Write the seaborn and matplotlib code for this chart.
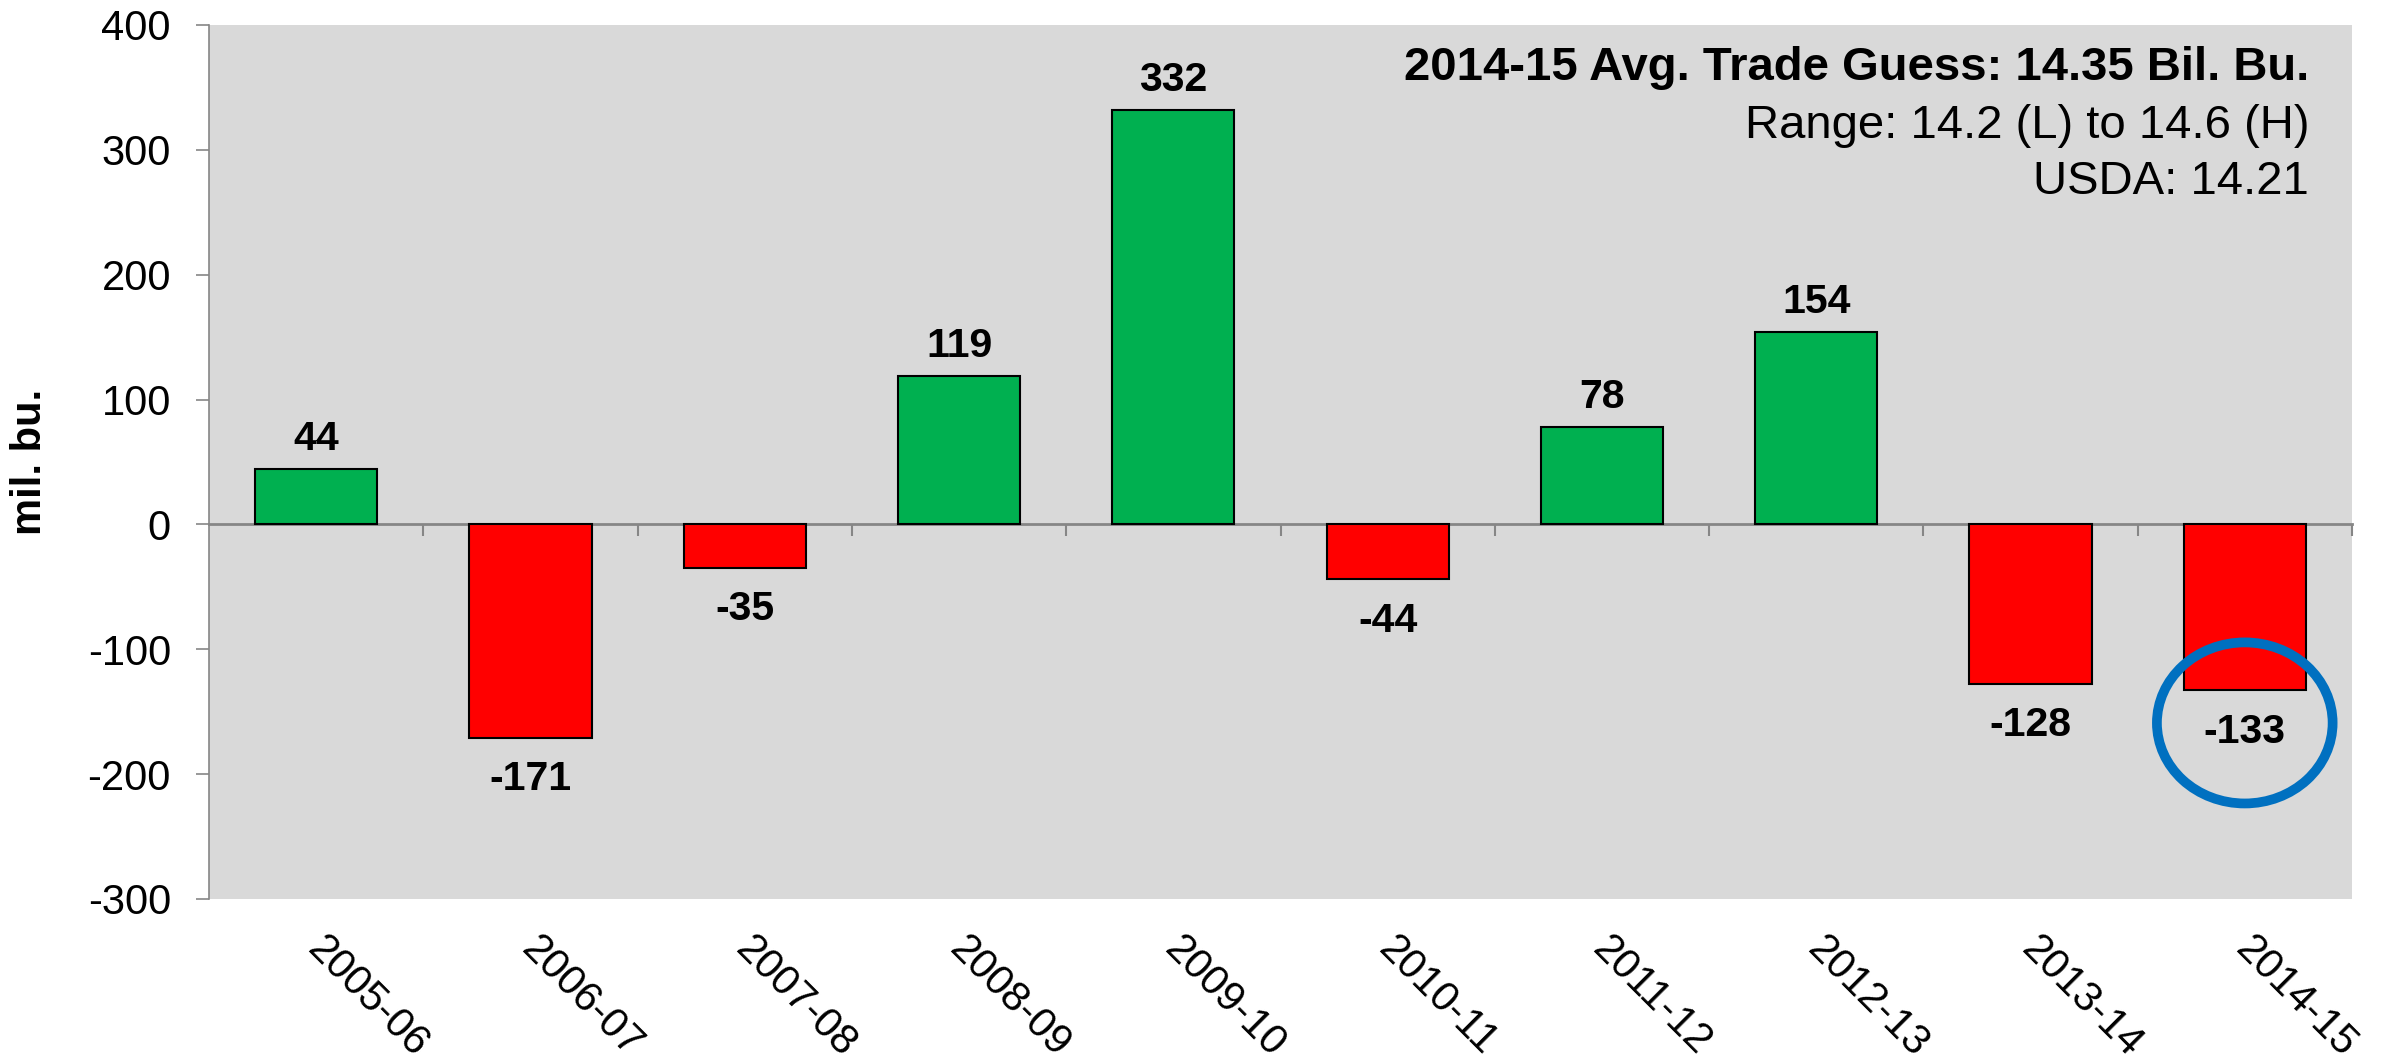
import numpy as np
import pandas as pd
import seaborn as sns
import matplotlib.pyplot as plt
from matplotlib.patches import Ellipse
from matplotlib.transforms import ScaledTranslation

seasons = ["2005-06", "2006-07", "2007-08", "2008-09", "2009-10",
           "2010-11", "2011-12", "2012-13", "2013-14", "2014-15"]
change = [44, -171, -35, 119, 332, -44, 78, 154, -128, -133]
direction = ["up" if v >= 0 else "down" for v in change]

header = "2014-15 Avg. Trade Guess: 14.35 Bil. Bu."
range_txt = "Range: 14.2 (L) to 14.6 (H)"
usda_txt = "USDA: 14.21"

sns.set_theme(style="white")
plt.rcParams["font.family"] = ["Liberation Sans", "DejaVu Sans"]
plt.rcParams["axes.unicode_minus"] = False
plt.rcParams["text.color"] = "black"
plt.rcParams["axes.labelcolor"] = "black"
plt.rcParams["xtick.color"] = "black"
plt.rcParams["ytick.color"] = "black"

grey = "#868686"
df = pd.DataFrame({"season": seasons, "change": change, "dir": direction})

fig = plt.figure(figsize=(23.87, 10.62), dpi=100)
ax = fig.add_axes([0.0876, 0.1535, 0.8977, 0.823])
ax.set_facecolor("#D9D9D9")

sns.barplot(data=df, x="season", y="change", hue="dir", hue_order=["up", "down"],
            palette={"up": "#00B050", "down": "#FF0000"}, dodge=False, width=0.57,
            edgecolor="black", linewidth=1.5, saturation=1, legend=False, ax=ax)

# value labels
ax.bar_label(ax.containers[0], fmt="%d", padding=8, fontsize=29.5,
             fontweight="bold", color="black")
ax.bar_label(ax.containers[1], fmt="%d", padding=16, fontsize=29.5,
             fontweight="bold", color="black")

ax.set_ylim(-300, 400)
ax.set_xlim(-0.5, len(seasons) - 0.5)
ax.set_yticks(np.arange(-300, 401, 100))

for s in ["top", "right", "bottom"]:
    ax.spines[s].set_visible(False)
ax.spines["left"].set_color(grey)
ax.spines["left"].set_linewidth(1.2)

ax.tick_params(axis="y", direction="out", length=9.5, width=1.2, color=grey,
               labelcolor="black", labelsize=30, pad=18, left=True)
ax.tick_params(axis="x", length=0, labelsize=30, pad=22, labelcolor="black")
shift = ScaledTranslation(8 / 72, 0, fig.dpi_scale_trans)
for lab in ax.get_xticklabels():
    lab.set_rotation(-45)
    lab.set_ha("left")
    lab.set_va("top")
    lab.set_rotation_mode("anchor")
    lab.set_transform(lab.get_transform() + shift)

# zero line with category boundary ticks
zero = ax.secondary_xaxis(0, transform=ax.transData)
zero.set_xticks(np.arange(len(seasons)) + 0.5)
zero.set_xticklabels([])
zero.tick_params(direction="out", length=8.5, width=1.5, color=grey)
zero.spines["bottom"].set_color(grey)
zero.spines["bottom"].set_linewidth(2)

ax.set_xlabel("")
ax.set_ylabel("mil. bu.", fontsize=30, fontweight="bold", color="black")
ax.yaxis.set_label_coords(-0.0742, 0.5)

ax.text(0.98, 0.951, header, transform=ax.transAxes, ha="right", va="center",
        fontsize=34, fontweight="bold")
ax.text(0.98, 0.884, range_txt, transform=ax.transAxes, ha="right", va="center",
        fontsize=34)
ax.text(0.98, 0.82, usda_txt, transform=ax.transAxes, ha="right", va="center",
        fontsize=34)

# highlight latest season
ax.add_patch(Ellipse((len(seasons) - 1, change[-1] - 26), width=0.82, height=129,
                     fill=False, edgecolor="#0070C0", linewidth=7, zorder=5))

fig.savefig("out.png", dpi=100)
